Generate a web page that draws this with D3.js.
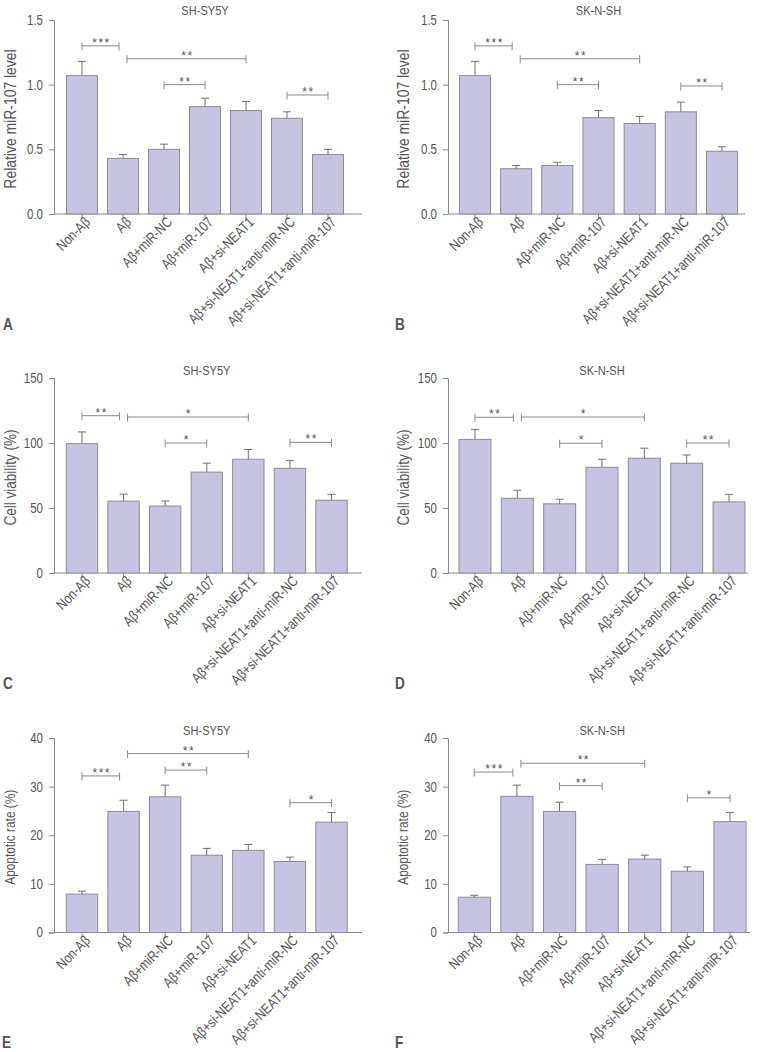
<!DOCTYPE html>
<html>
<head>
<meta charset="utf-8">
<script src="https://cdn.jsdelivr.net/npm/d3@7/dist/d3.min.js"></script>
<style>
  html, body { margin: 0; padding: 0; background: #fff; }
  svg { display: block; }
  text { font-family: "Liberation Sans", Arial, sans-serif; fill: #555; }
</style>
</head>
<body>
<svg id="chart" width="761" height="1052"></svg>
<script>
// ---------- data ----------
const categories = ["Non-Aβ", "Aβ", "Aβ+miR-NC", "Aβ+miR-107", "Aβ+si-NEAT1",
  "Aβ+si-NEAT1+anti-miR-NC", "Aβ+si-NEAT1+anti-miR-107"];

const mirSHSY5Y    = [1.07, 0.43, 0.50, 0.83, 0.80, 0.74, 0.46];
const mirSHSY5YErr = [0.11, 0.03, 0.04, 0.065, 0.07, 0.05, 0.04];
const mirSKNSH     = [1.07, 0.35, 0.375, 0.745, 0.70, 0.79, 0.485];
const mirSKNSHErr  = [0.11, 0.025, 0.025, 0.055, 0.055, 0.075, 0.035];

const viaSHSY5Y    = [99.5, 55.3, 51.5, 77.6, 87.5, 80.5, 56.0];
const viaSHSY5YErr = [9.0, 5.3, 3.9, 6.9, 7.5, 6.1, 4.5];
const viaSKNSH     = [102.8, 57.5, 53.2, 81.3, 88.3, 84.4, 54.7];
const viaSKNSHErr  = [7.7, 6.1, 3.5, 6.2, 7.7, 6.4, 5.8];

const apoSHSY5Y    = [7.9, 24.9, 27.9, 15.9, 16.9, 14.6, 22.7];
const apoSHSY5YErr = [0.6, 2.3, 2.4, 1.4, 1.2, 0.9, 2.0];
const apoSKNSH     = [7.25, 28.0, 24.9, 14.0, 15.1, 12.6, 22.8];
const apoSKNSHErr  = [0.4, 2.3, 1.9, 1.0, 0.8, 0.9, 1.9];

// significance brackets: [from index, to index, level, label]
const sigA = [[0, 1, 1.30, "***"], [1, 4, 1.20, "**"], [2, 3, 1.00, "**"], [5, 6, 0.92, "**"]];
const sigB = [[0, 1, 1.30, "***"], [1, 4, 1.20, "**"], [2, 3, 1.00, "**"], [5, 6, 0.99, "**"]];
const sigC = [[0, 1, 121, "**"], [1, 4, 120, "*"], [2, 3, 100, "*"], [5, 6, 100.5, "**"]];
const sigD = [[0, 1, 119.8, "**"], [1, 4, 120, "*"], [2, 3, 99.8, "*"], [5, 6, 100, "**"]];
const sigE = [[0, 1, 32.2, "***"], [1, 4, 36.8, "**"], [2, 3, 33.4, "**"], [5, 6, 26.7, "*"]];
const sigF = [[0, 1, 33.0, "***"], [1, 4, 34.8, "**"], [2, 3, 30.2, "**"], [5, 6, 27.7, "*"]];

const ticksMir = [0, 0.5, 1.0, 1.5];
const ticksVia = [0, 50, 100, 150];
const ticksApo = [0, 10, 20, 30, 40];

// ---------- layout ----------
const NARROW = 0.82; // horizontal compression to mimic a condensed face
const panels = [
  { letter: "A", title: "SH-SY5Y", ylabel: "Relative miR-107 level", v: mirSHSY5Y, e: mirSHSY5YErr, sig: sigA,
    domain: [0, 1.5], ticks: ticksMir, fmt: ".1f", axisX: 54, band: [61.5, 348.5], xEnd: 362, y: [214, 20], titleY: 15, labelX: 10, labelSize: 17, letterPos: [3, 330] },
  { letter: "B", title: "SK-N-SH", ylabel: "Relative miR-107 level", v: mirSKNSH, e: mirSKNSHErr, sig: sigB,
    domain: [0, 1.5], ticks: ticksMir, fmt: ".1f", axisX: 448, band: [454.4, 742.6], xEnd: 745, y: [214, 20], titleY: 15, labelX: 403, labelSize: 17, letterPos: [395, 330] },
  { letter: "C", title: "SH-SY5Y", ylabel: "Cell viability (%)", v: viaSHSY5Y, e: viaSHSY5YErr, sig: sigC,
    domain: [0, 150], ticks: ticksVia, fmt: "d", axisX: 54, band: [61.2, 352.3], xEnd: 362, y: [573, 378], titleY: 375, labelX: 10, labelSize: 16.5, letterPos: [3, 689] },
  { letter: "D", title: "SK-N-SH", ylabel: "Cell viability (%)", v: viaSKNSH, e: viaSKNSHErr, sig: sigD,
    domain: [0, 150], ticks: ticksVia, fmt: "d", axisX: 448, band: [453.8, 750.2], xEnd: 748, y: [573, 378], titleY: 375, labelX: 403, labelSize: 16.5, letterPos: [395, 689] },
  { letter: "E", title: "SH-SY5Y", ylabel: "Apoptotic rate (%)", v: apoSHSY5Y, e: apoSHSY5YErr, sig: sigE,
    domain: [0, 40], ticks: ticksApo, fmt: "d", axisX: 54, band: [61.2, 352.3], xEnd: 362, y: [932.5, 738], titleY: 735, labelX: 10, labelSize: 14.5, letterPos: [2, 1048] },
  { letter: "F", title: "SK-N-SH", ylabel: "Apoptotic rate (%)", v: apoSKNSH, e: apoSKNSHErr, sig: sigF,
    domain: [0, 40], ticks: ticksApo, fmt: "d", axisX: 448, band: [453, 751.3], xEnd: 750, y: [932.5, 738], titleY: 735, labelX: 403, labelSize: 14.5, letterPos: [395, 1048] }
];

const svg = d3.select("#chart");
const AXIS = "#8a8a8a", BAR = "#c6c4e0", BARSTROKE = "#8c8c98", ERR = "#707070";

panels.forEach(p => {
  const g = svg.append("g");
  const x = d3.scaleBand().domain(categories).range(p.band).paddingInner(0.245).paddingOuter(0.1225);
  const y = d3.scaleLinear().domain(p.domain).range(p.y);
  const cx = c => x(c) + x.bandwidth() / 2;

  // y axis
  const yAxis = g.append("g").attr("transform", `translate(${p.axisX},0)`)
    .call(d3.axisLeft(y).tickValues(p.ticks).tickFormat(d3.format(p.fmt)).tickSize(5).tickPadding(6));
  yAxis.select(".domain").attr("stroke", AXIS);
  yAxis.selectAll(".tick line").attr("stroke", AXIS);
  yAxis.selectAll(".tick text").attr("fill", "#555").style("font-size", "14px")
    .style("font-family", '"Liberation Sans", Arial, sans-serif')
    .attr("x", 0).attr("transform", `translate(-11,0) scale(${NARROW},1)`);

  // x axis line
  g.append("line").attr("x1", p.axisX).attr("x2", p.xEnd).attr("y1", y(0)).attr("y2", y(0))
    .attr("stroke", AXIS);

  // bars
  g.selectAll("rect.bar").data(categories).enter().append("rect")
    .attr("x", c => x(c)).attr("width", x.bandwidth())
    .attr("y", (c, i) => y(p.v[i])).attr("height", (c, i) => y(0) - y(p.v[i]))
    .attr("fill", BAR).attr("stroke", BARSTROKE).attr("stroke-width", 1);

  // error bars
  categories.forEach((c, i) => {
    const top = y(p.v[i] + p.e[i]);
    g.append("line").attr("x1", cx(c)).attr("x2", cx(c)).attr("y1", y(p.v[i])).attr("y2", top).attr("stroke", ERR);
    g.append("line").attr("x1", cx(c) - 4).attr("x2", cx(c) + 4).attr("y1", top).attr("y2", top).attr("stroke", ERR);
  });

  // x ticks
  categories.forEach(c => {
    g.append("line").attr("x1", cx(c)).attr("x2", cx(c)).attr("y1", y(0)).attr("y2", y(0) + 5).attr("stroke", AXIS);
  });

  // x labels
  g.selectAll("text.xl").data(categories).enter().append("text")
    .attr("transform", c => `translate(${cx(c) + 9},${y(0) + 9}) rotate(-45) scale(${NARROW},1)`)
    .attr("text-anchor", "end").style("font-size", "14.5px").text(c => c);

  // significance brackets
  const leftUse = {}, rightUse = {};
  p.sig.forEach(s => { leftUse[s[0]] = true; rightUse[s[1]] = true; });
  p.sig.forEach(s => {
    const shared = i => leftUse[i] && rightUse[i];
    const x1 = cx(categories[s[0]]) + (shared(s[0]) ? 4 : 0);
    const x2 = cx(categories[s[1]]) - (shared(s[1]) ? 4 : 0);
    const yy = y(s[2]);
    g.append("line").attr("x1", x1).attr("x2", x2).attr("y1", yy).attr("y2", yy).attr("stroke", AXIS);
    g.append("line").attr("x1", x1).attr("x2", x1).attr("y1", yy - 3.5).attr("y2", yy + 4.5).attr("stroke", AXIS);
    g.append("line").attr("x1", x2).attr("x2", x2).attr("y1", yy - 3.5).attr("y2", yy + 4.5).attr("stroke", AXIS);
    g.append("text").attr("x", (x1 + x2) / 2 + 1).attr("y", yy + 1).attr("text-anchor", "middle")
      .style("font-size", "12px").style("letter-spacing", "1.5px").attr("fill", "#777").text(s[3]);
  });

  // title
  g.append("text").attr("transform", `translate(${(p.band[0] + p.band[1]) / 2},${p.titleY}) scale(${NARROW},1)`)
    .attr("text-anchor", "middle").style("font-size", "13.5px").text(p.title);

  // y label
  const ly = (p.y[0] + p.y[1]) / 2 + 2;
  g.append("text").attr("transform", `translate(${p.labelX},${ly}) rotate(-90) scale(${NARROW},1)`)
    .attr("text-anchor", "middle").attr("dy", "0.35em").style("font-size", p.labelSize + "px").text(p.ylabel);

  // panel letter
  g.append("text").attr("transform", `translate(${p.letterPos[0]},${p.letterPos[1]}) scale(0.85,1)`)
    .style("font-size", "16px").style("font-weight", "bold").attr("fill", "#111").text(p.letter);
});
</script>
</body>
</html>
